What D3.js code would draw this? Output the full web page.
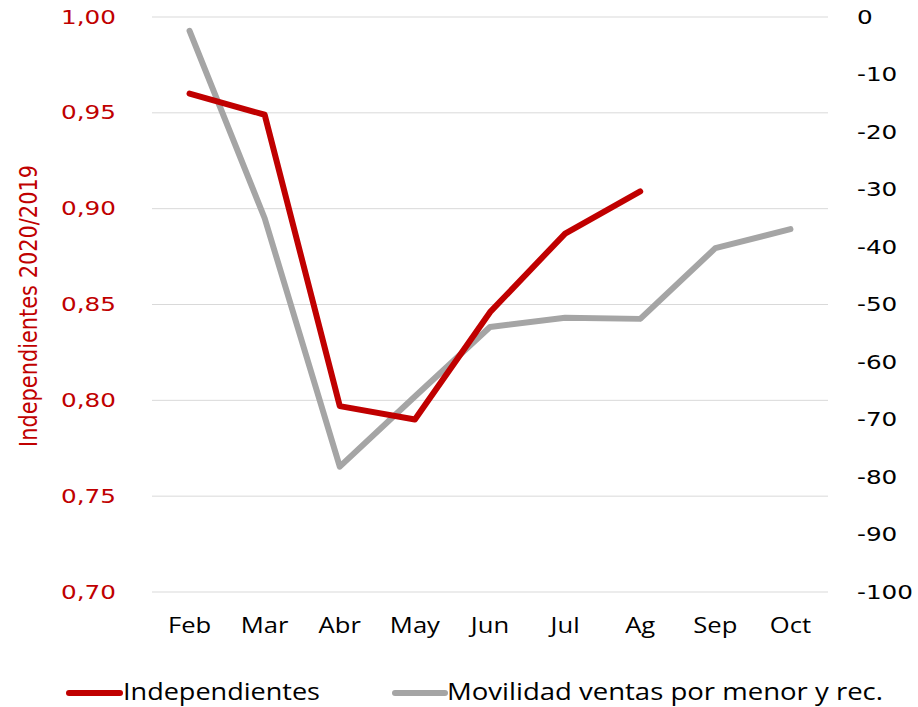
<!DOCTYPE html>
<html>
<head>
<meta charset="utf-8">
<script src="https://cdn.jsdelivr.net/npm/d3@7"></script>
<style>
  body { margin: 0; background: #fff; }
  svg { display: block; }
</style>
</head>
<body>
<svg id="chart" width="918" height="707"></svg>
<script>
// data
var months = ["Feb", "Mar", "Abr", "May", "Jun", "Jul", "Ag", "Sep", "Oct"];
var independientes = [0.960, 0.949, 0.797, 0.790, 0.846, 0.887, 0.909];
var movilidad = [-2.4, -35.0, -78.2, -66.0, -53.9, -52.3, -52.5, -40.2, -36.9];
var leftTicks = [0.70, 0.75, 0.80, 0.85, 0.90, 0.95, 1.00];
var rightTicks = [0, -10, -20, -30, -40, -50, -60, -70, -80, -90, -100];
var seriesNames = ["Independientes", "Movilidad ventas por menor y rec."];

var red = "#c00000", grey = "#a5a5a5";

var svg = d3.select("#chart"),
    plotLeft = 152, plotRight = 828, plotTop = 17, plotBottom = 592;

var x = d3.scaleBand().domain(months).range([plotLeft, plotRight]);
var yL = d3.scaleLinear().domain([0.70, 1.00]).range([plotBottom, plotTop]);
var yR = d3.scaleLinear().domain([-100, 0]).range([plotBottom, plotTop]);
function cx(d) { return x(d) + x.bandwidth() / 2; }

// gridlines
svg.append("g").selectAll("line")
    .data(leftTicks)
    .join("line")
    .attr("x1", plotLeft).attr("x2", plotRight)
    .attr("y1", function (d) { return yL(d); })
    .attr("y2", function (d) { return yL(d); })
    .attr("stroke", "#d9d9d9")
    .attr("stroke-width", 1);

// left axis
var gl = svg.append("g")
    .attr("transform", "translate(116,0)")
    .call(d3.axisLeft(yL).tickValues(leftTicks).tickSize(0).tickPadding(0)
        .tickFormat(function (d) { return d3.format(".2f")(d).replace(".", ","); }));
gl.select(".domain").remove();
gl.selectAll("text")
    .attr("x", 0)
    .attr("transform", "scale(1.3,1)")
    .attr("fill", red)
    .style("font-family", "'DejaVu Sans', Verdana, sans-serif")
    .style("font-size", "19px");

// right axis
var gr = svg.append("g")
    .attr("transform", "translate(857,0)")
    .call(d3.axisRight(yR).tickValues(rightTicks).tickSize(0).tickPadding(0)
        .tickFormat(d3.format("d")));
gr.select(".domain").remove();
gr.selectAll("text")
    .attr("x", 0)
    .attr("transform", "scale(1.3,1)")
    .attr("fill", "#000")
    .style("font-family", "'DejaVu Sans', Verdana, sans-serif")
    .style("font-size", "19px")
    .text(function (d) { return d < 0 ? "-" + Math.abs(d) : d; });

// category axis
var gx = svg.append("g")
    .attr("transform", "translate(0,626)")
    .call(d3.axisBottom(x).tickSize(0).tickPadding(0));
gx.select(".domain").remove();
gx.selectAll("text")
    .attr("y", 0)
    .attr("dy", "0.35em")
    .attr("transform", "scale(1.22,1)")
    .attr("fill", "#000")
    .style("font-family", "'Open Sans', sans-serif")
    .style("font-size", "21px");

// y title
svg.append("text")
    .attr("transform", "translate(37,306) rotate(-90)")
    .attr("text-anchor", "middle")
    .attr("fill", red)
    .attr("textLength", 282)
    .attr("lengthAdjust", "spacingAndGlyphs")
    .style("font-family", "'Liberation Sans Narrow', 'DejaVu Sans Condensed', sans-serif")
    .style("font-size", "24px")
    .text("Independientes 2020/2019");

// lines
var lineL = d3.line()
    .x(function (d, i) { return cx(months[i]); })
    .y(function (d) { return yL(d); });
var lineR = d3.line()
    .x(function (d, i) { return cx(months[i]); })
    .y(function (d) { return yR(d); });

svg.append("path")
    .datum(movilidad)
    .attr("d", lineR)
    .attr("fill", "none")
    .attr("stroke", grey)
    .attr("stroke-width", 6)
    .attr("stroke-linecap", "round")
    .attr("stroke-linejoin", "round");

svg.append("path")
    .datum(independientes)
    .attr("d", lineL)
    .attr("fill", "none")
    .attr("stroke", red)
    .attr("stroke-width", 6)
    .attr("stroke-linecap", "round")
    .attr("stroke-linejoin", "round");

// legend
var legend = [
    {name: seriesNames[0], color: red, x: 69, w: 51, tx: 123, tw: 197},
    {name: seriesNames[1], color: grey, x: 395, w: 50, tx: 447, tw: 436}
];
var lg = svg.append("g").selectAll("g").data(legend).join("g");
lg.append("line")
    .attr("x1", function (d) { return d.x; })
    .attr("x2", function (d) { return d.x + d.w; })
    .attr("y1", 693).attr("y2", 693)
    .attr("stroke", function (d) { return d.color; })
    .attr("stroke-width", 6)
    .attr("stroke-linecap", "round");
lg.append("text")
    .attr("x", function (d) { return d.tx; })
    .attr("y", 700)
    .attr("textLength", function (d) { return d.tw; })
    .attr("lengthAdjust", "spacingAndGlyphs")
    .attr("fill", "#000")
    .style("font-family", "'Open Sans', sans-serif")
    .style("font-size", "23px")
    .text(function (d) { return d.name; });
</script>
</body>
</html>
